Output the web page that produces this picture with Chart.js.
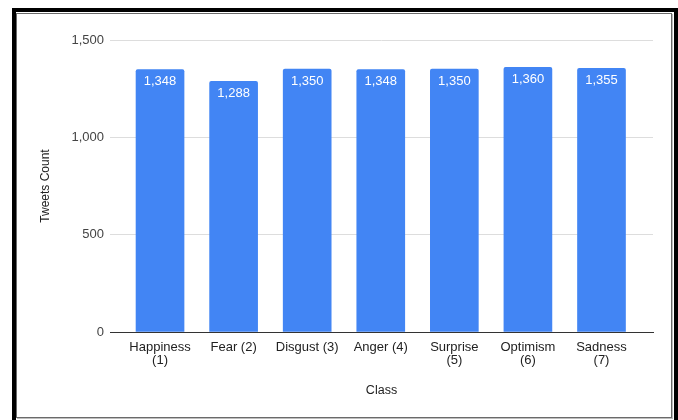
<!DOCTYPE html>
<html>
<head>
<meta charset="utf-8">
<script src="https://cdn.jsdelivr.net/npm/chart.js@4/dist/chart.umd.min.js"></script>
<style>
  html, body { margin: 0; padding: 0; background: #fff; overflow: hidden; }
  body { width: 678px; height: 420px; position: relative; }
  .frame-outer { position: absolute; left: 12px; top: 8px; width: 658px; height: 420px; border: 4px solid #000; }
  .frame-inner { position: absolute; left: 16px; top: 13px; width: 654px; height: 403px; border: 1px solid #6a6a6a; box-shadow: 1px 1px 0 #bdbdbd; }
  #chart { position: absolute; left: 0; top: 0; }
</style>
</head>
<body>
<div class="frame-outer"></div>
<div class="frame-inner"></div>
<canvas id="chart" width="678" height="420"></canvas>
<script>
// Data
const classNames = [
  ['Happiness', '(1)'],
  ['Fear (2)'],
  ['Disgust (3)'],
  ['Anger (4)'],
  ['Surprise', '(5)'],
  ['Optimism', '(6)'],
  ['Sadness', '(7)']
];
const tweetCounts = [1348, 1288, 1350, 1348, 1350, 1360, 1355];
const yTicks = [0, 500, 1000, 1500];

const fmt = (v) => Number(v).toLocaleString('en-US');

// white count labels inside the top of each bar
const barLabels = {
  id: 'barLabels',
  afterDatasetsDraw(chart) {
    const { ctx } = chart;
    const meta = chart.getDatasetMeta(0);
    ctx.save();
    ctx.fillStyle = '#ffffff';
    ctx.font = '13px "Liberation Sans", Arial';
    ctx.textAlign = 'center';
    ctx.textBaseline = 'middle';
    meta.data.forEach((bar, i) => {
      ctx.fillText(fmt(tweetCounts[i]), bar.x, bar.y + 12);
    });
    ctx.restore();
  }
};

Chart.defaults.font.family = '"Liberation Sans", Arial, sans-serif';
Chart.defaults.font.size = 12;

new Chart(document.getElementById('chart'), {
  type: 'bar',
  data: {
    datasets: [{
      data: tweetCounts.map((v, i) => ({ x: i, y: v })),
      backgroundColor: '#4285f4',
      borderRadius: { topLeft: 2, topRight: 2 },
      borderSkipped: 'bottom',
      barThickness: 48
    }]
  },
  options: {
    responsive: false,
    animation: false,
    devicePixelRatio: 1,
    layout: { padding: { left: 33, right: 25, top: 40, bottom: 0 } },
    plugins: { legend: { display: false }, tooltip: { enabled: false } },
    scales: {
      x: {
        type: 'linear',
        offset: false,
        min: -0.68,
        max: 6.7,
        afterBuildTicks: (scale) => { scale.ticks = classNames.map((_, i) => ({ value: i })); },
        afterFit: (scale) => { scale.height = 88; },
        grid: { display: false, drawTicks: false, offset: false },
        border: { display: true, color: '#333333', width: 1 },
        ticks: {
          autoSkip: false,
          maxRotation: 0,
          padding: 9,
          color: '#222222',
          font: { size: 13, lineHeight: 1.0 },
          callback: (v) => classNames[v]
        },
        title: {
          display: true,
          text: 'Class',
          color: '#222222',
          font: { size: 12.5 },
          padding: { top: 0, bottom: 22 }
        }
      },
      y: {
        min: 0,
        max: 1500,
        afterBuildTicks: (scale) => { scale.ticks = yTicks.map(v => ({ value: v })); },
        afterFit: (scale) => { scale.width = 77; },
        grid: { color: '#dddddd', drawTicks: false },
        border: { display: false },
        ticks: {
          padding: 6,
          color: '#444444',
          font: { size: 13 },
          callback: (v) => fmt(v)
        },
        title: {
          display: true,
          text: 'Tweets Count',
          color: '#222222',
          font: { size: 12 },
          padding: { top: 5, bottom: 0 }
        }
      }
    }
  },
  plugins: [barLabels]
});
</script>
</body>
</html>
